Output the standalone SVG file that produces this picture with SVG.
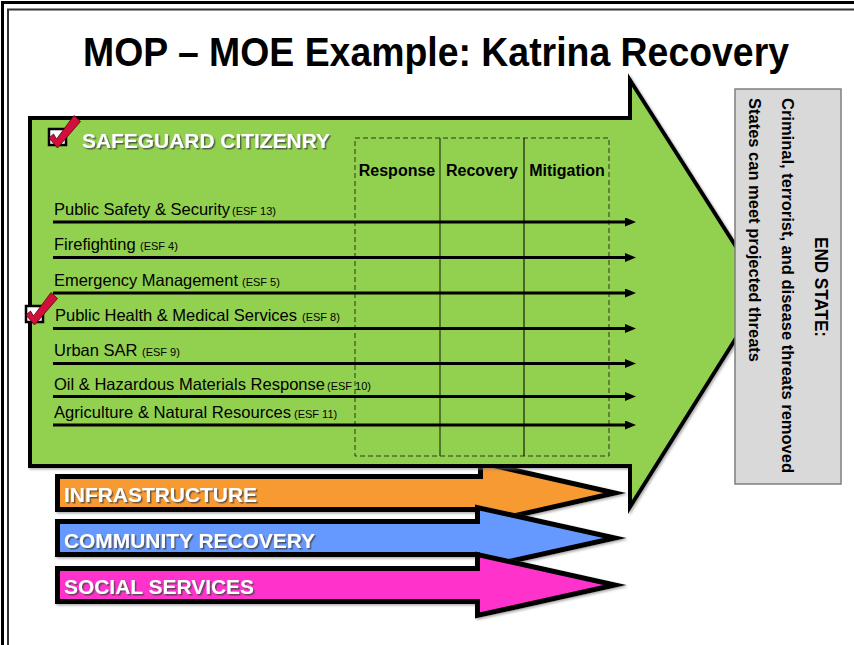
<svg xmlns="http://www.w3.org/2000/svg" width="854" height="645" viewBox="0 0 854 645">
<defs>
<style>
.t{font-family:"Liberation Sans",Arial,sans-serif}
.lbl{font-family:"Liberation Sans",Arial,sans-serif;font-size:16.5px;fill:#000}
.esf{font-size:11px}
.wt{font-family:"Liberation Sans",Arial,sans-serif;font-weight:bold;font-size:20px;fill:#fff;filter:url(#ts)}
.hdr{font-family:"Liberation Sans",Arial,sans-serif;font-weight:bold;font-size:16px;fill:#000;text-anchor:middle}
.big{stroke:#000;stroke-width:5;stroke-linejoin:miter;stroke-miterlimit:10;filter:url(#as)}
.ln{stroke:#000;stroke-width:3;fill:none;marker-end:url(#ah)}
.chk{fill:#d0103a;stroke:#5a0010;stroke-width:0.8;stroke-linejoin:round}
.box{fill:#fff;stroke:#000;stroke-width:2.5}
.rt{font-family:"Liberation Sans",Arial,sans-serif;font-weight:bold;fill:#000}
</style>
<filter id="ts" x="-10%" y="-30%" width="120%" height="160%">
<feDropShadow dx="1.5" dy="1.5" stdDeviation="0.6" flood-color="#444" flood-opacity="0.8"/>
</filter>
<filter id="as" x="-5%" y="-5%" width="110%" height="115%">
<feDropShadow dx="1.5" dy="1.5" stdDeviation="1" flood-color="#777" flood-opacity="0.6"/>
</filter>
<marker id="ah" markerUnits="userSpaceOnUse" markerWidth="11" markerHeight="9" viewBox="0 0 11 9" refX="1" refY="4.5" orient="auto">
<path d="M0,0 L11,4.5 L0,9 Z" fill="#000"/>
</marker>
</defs>
<rect width="854" height="645" fill="#fff"/>
<g id="frame" fill="none">
<path d="M2.5,650 V2.5 H860" stroke="#000" stroke-width="3"/>
<path d="M8,650 V9.5 H860" stroke="#333" stroke-width="2"/>
</g>
<text id="title" class="t" x="83" y="66" font-size="40" font-weight="bold" textLength="706" lengthAdjust="spacingAndGlyphs">MOP – MOE Example: Katrina Recovery</text>

<g id="infrastructure">
<path class="big" d="M57.5,476.5 H480.5 V462.5 L615,493 L480.5,523.5 V509.5 H57.5 Z" fill="#f79a33"/>
<text class="wt" x="64" y="502" textLength="193" lengthAdjust="spacingAndGlyphs">INFRASTRUCTURE</text>
</g>
<g id="community-recovery">
<path class="big" d="M57.5,521.5 H477.5 V507.5 L615,538 L477.5,568.5 V554.5 H57.5 Z" fill="#6699ff"/>
<text class="wt" x="64" y="548" textLength="251" lengthAdjust="spacingAndGlyphs">COMMUNITY RECOVERY</text>
</g>
<g id="social-services">
<path class="big" d="M57.5,568.5 H477.5 V554.5 L615,585 L477.5,615.5 V601.5 H57.5 Z" fill="#ff33cc"/>
<text class="wt" x="64" y="594" textLength="190" lengthAdjust="spacingAndGlyphs">SOCIAL SERVICES</text>
</g>

<g id="safeguard-citizenry">
<path d="M30,118 H630 V80 L765,292 L630,507 V466 H30 Z" fill="#92d050" stroke="#000" stroke-width="4" stroke-miterlimit="10" filter="url(#as)"/>
<rect class="box" x="49" y="129" width="17" height="16"/>
<polygon class="chk" points="49,138 53.5,134 56.5,139 74,115.5 80.5,121.5 57.5,148"/>
<text class="wt" x="82" y="148" textLength="248" lengthAdjust="spacingAndGlyphs">SAFEGUARD CITIZENRY</text>
<rect x="355" y="138" width="254" height="318" fill="none" stroke="#2a3a1a" stroke-width="1" stroke-dasharray="5,3"/>
<line x1="440" y1="138" x2="440" y2="456" stroke="#3d5a1e" stroke-width="1.5"/>
<line x1="524" y1="138" x2="524" y2="456" stroke="#000" stroke-width="1"/>
<text class="hdr" x="397" y="176">Response</text>
<text class="hdr" x="482" y="176">Recovery</text>
<text class="hdr" x="567" y="176">Mitigation</text>
<text class="lbl" x="54" y="215">Public Safety &amp; Security <tspan class="esf" x="232">(ESF 13)</tspan></text>
<text class="lbl" x="54" y="250">Firefighting <tspan class="esf" x="140">(ESF 4)</tspan></text>
<text class="lbl" x="54" y="286" textLength="184" lengthAdjust="spacingAndGlyphs">Emergency Management</text>
<text class="lbl esf" x="242" y="286">(ESF 5)</text>
<text class="lbl" x="55" y="321" textLength="242" lengthAdjust="spacingAndGlyphs">Public Health &amp; Medical Services</text>
<text class="lbl esf" x="302" y="321">(ESF 8)</text>
<text class="lbl" x="54" y="356">Urban SAR <tspan class="esf" x="142">(ESF 9)</tspan></text>
<text class="lbl" x="54" y="390" textLength="271" lengthAdjust="spacingAndGlyphs">Oil &amp; Hazardous Materials Response</text>
<text class="lbl esf" x="327" y="390">(ESF 10)</text>
<text class="lbl" x="54" y="418" textLength="237" lengthAdjust="spacingAndGlyphs">Agriculture &amp; Natural Resources</text>
<text class="lbl esf" x="294" y="418">(ESF 11)</text>
<rect class="box" x="26" y="306" width="17" height="16"/>
<polygon class="chk" points="26,315 30.5,311 33.5,316 51,292.5 57.5,298.5 34.5,325"/>
</g>

<g id="connectors">
<line class="ln" x1="53" y1="222" x2="626" y2="222"/>
<line class="ln" x1="53" y1="257.5" x2="626" y2="257.5"/>
<line class="ln" x1="53" y1="293" x2="626" y2="293"/>
<line class="ln" x1="53" y1="328.5" x2="626" y2="328.5"/>
<line class="ln" x1="53" y1="363.5" x2="626" y2="363.5"/>
<line class="ln" x1="53" y1="396.5" x2="626" y2="396.5"/>
<line class="ln" x1="53" y1="425" x2="626" y2="425"/>
</g>

<g id="end-state">
<rect x="735" y="89" width="106" height="395" fill="#d9d9d9" stroke="#7f7f7f" stroke-width="1.5"/>
<text class="rt" transform="translate(815,287) rotate(90)" text-anchor="middle" font-size="19" textLength="100" lengthAdjust="spacingAndGlyphs">END STATE:</text>
<text class="rt" transform="translate(782,98) rotate(90)" font-size="16" textLength="375" lengthAdjust="spacingAndGlyphs">Criminal, terrorist, and disease threats removed</text>
<text class="rt" transform="translate(749,98) rotate(90)" font-size="16" textLength="264" lengthAdjust="spacingAndGlyphs">States can meet projected threats</text>
</g>
</svg>
